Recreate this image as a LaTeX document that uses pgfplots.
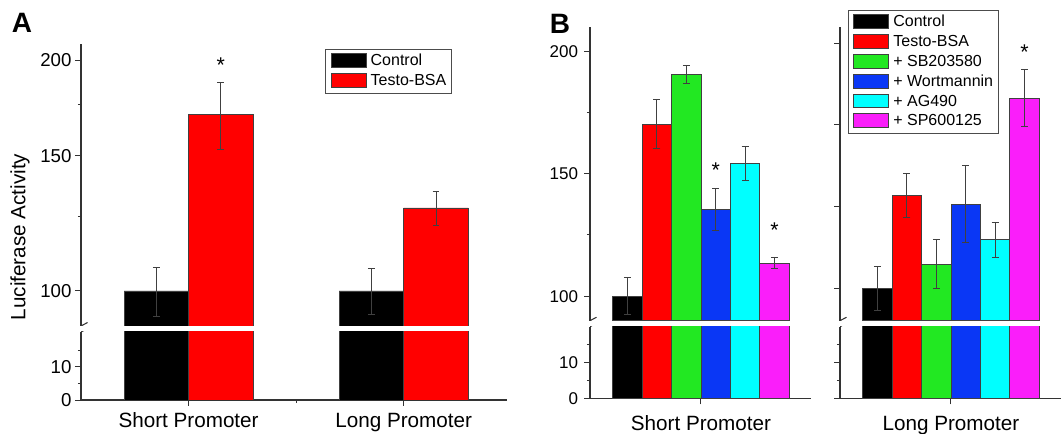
\documentclass[border=0pt]{standalone}
\usepackage{fontspec}
\setmainfont{Liberation Sans}
\usepackage{pgfplots}
\pgfplotsset{compat=1.18}
\definecolor{cgreen}{RGB}{34,232,34}
\definecolor{cblue}{RGB}{10,55,245}
\definecolor{ccyan}{RGB}{0,255,255}
\definecolor{cmag}{RGB}{250,30,250}
\definecolor{cred}{RGB}{255,0,0}
\begin{document}
\begin{tikzpicture}
\useasboundingbox (0,0) rectangle (796.5pt,325.5pt);
\pgfplotsset{
  brk/.style={scale only axis, anchor=south west, tick align=outside,
    major tick length=4.5pt, minor tick length=2.4pt,
    axis line style={-, line width=0.9pt, black!80},
    every outer x axis line/.append style={-},
    every outer y axis line/.append style={-},
    every tick/.style={black!80, line width=0.7pt},
    /pgf/number format/assume math mode=true},
  topax/.style={brk, axis x line=none, axis y line*=left, ytick pos=left},
  botax/.style={brk, axis x line*=bottom, axis y line*=left, ytick pos=left, xtick pos=bottom,
    ytick={0,10}, minor ytick={5,15}},
  errs/.style={error bars/.cd, y dir=both, y explicit,
    error bar style={line width=0.6pt, black!75},
    error mark options={rotate=90, mark size=2.6pt, line width=0.6pt, black!75}},
  bars/.style={ybar, bar shift=0pt, draw=black!75, line width=0.5pt},
  leg/.style={legend style={draw=black!70, line width=0.6pt, fill=white,
    inner xsep=4pt, inner ysep=3pt, row sep=3pt, column sep=3.2pt,
    nodes={inner sep=0pt, text height=8.5pt, text depth=2.5pt, font=\fontsize{12}{12}\selectfont}},
    legend cell align=left,
    legend image code/.code={\draw[#1,/tikz/.cd,draw=black!75,line width=0.5pt] (0pt,-4.3pt) rectangle (26.25pt,6.1pt);}},
  labA/.style={yticklabel style={font=\fontsize{14}{14}\selectfont, anchor=east, inner sep=0pt, xshift=-2.5pt}},
  labB/.style={yticklabel style={font=\fontsize{12.75}{12.75}\selectfont, anchor=east, inner sep=0pt, xshift=-4.3pt}},
  xlab/.style={xticklabel style={font=\fontsize{15.5}{15.5}\selectfont, anchor=base, inner sep=0pt, yshift=#1}},
}
% ---------------- Panel A ----------------
\begin{axis}[topax, labA, leg, at={(60.75pt,81pt)}, width=319.5pt, height=211.5pt,
  ymode=log, ymin=90, ymax=210, xmin=0.5, xmax=2.48,
  ytick={100,150,200}, minor ytick={125,175}, yticklabels={100,150,200},
  legend style={at={(0.5728,0.9823)}, anchor=north west}]
\addplot[bars, bar width=0.3, fill=black, errs] coordinates {(0.85,100) +- (0,7.3) (1.85,100) +- (0,6.9)};
\addlegendentry{Control}
\addplot[bars, bar width=0.3, fill=cred, errs] coordinates {(1.15,170) +- (0,17) (2.15,128.3) +- (0,6.6)};
\addlegendentry{Testo-BSA}
\node[font=\fontsize{16}{16}\selectfont, anchor=base, inner sep=0pt, yshift=-9.1pt] at (axis cs:1.15,200) {*};
\draw[line width=0.8pt, black!80] ([xshift=-4.9pt,yshift=-2.6pt]rel axis cs:0,0) -- ([xshift=4.9pt,yshift=2.6pt]rel axis cs:0,0);
\end{axis}
\begin{axis}[botax, labA, xlab=-16.3pt, at={(60.75pt,25.5pt)}, width=319.5pt, height=51pt,
  ymin=0, ymax=20.4, xmin=0.5, xmax=2.48,
  xtick={1,2}, xticklabels={Short Promoter, Long Promoter}, minor xtick={1.5}]
\addplot[bars, bar width=0.3, fill=black] coordinates {(0.85,100) (1.85,100)};
\addplot[bars, bar width=0.3, fill=cred] coordinates {(1.15,170) (2.15,128.3)};
\draw[line width=0.8pt, black!80] ([xshift=-4.9pt,yshift=-2.6pt]rel axis cs:0,1) -- ([xshift=4.9pt,yshift=2.6pt]rel axis cs:0,1);
\end{axis}
% ---------------- Panel B left ----------------
\begin{axis}[topax, labB, at={(442.5pt,84.98pt)}, width=165.75pt, height=220.5pt,
  ymin=90, ymax=210, xmin=-3.77, xmax=3.74,
  ytick={100,150,200}, minor ytick={125,175}, yticklabels={100,150,200}]
\addplot[bars, bar width=1, fill=black, errs] coordinates {(-2.5,100) +- (0,7.6)};
\addplot[bars, bar width=1, fill=cred, errs] coordinates {(-1.5,170.2) +- (0,10)};
\addplot[bars, bar width=1, fill=cgreen, errs] coordinates {(-0.5,190.6) +- (0,3.7)};
\addplot[bars, bar width=1, fill=cblue, errs] coordinates {(0.5,135.5) +- (0,8.5)};
\addplot[bars, bar width=1, fill=ccyan, errs] coordinates {(1.5,154.1) +- (0,6.9)};
\addplot[bars, bar width=1, fill=cmag, errs] coordinates {(2.5,113.6) +- (0,2.4)};
\node[font=\fontsize{16}{16}\selectfont, anchor=base, inner sep=0pt, yshift=-9.1pt] at (axis cs:0.5,153.2) {*};
\node[font=\fontsize{16}{16}\selectfont, anchor=base, inner sep=0pt, yshift=-9.1pt] at (axis cs:2.5,129) {*};
\draw[line width=0.8pt, black!80] ([xshift=-4.9pt,yshift=-2.6pt]rel axis cs:0,0) -- ([xshift=4.9pt,yshift=2.6pt]rel axis cs:0,0);
\end{axis}
\begin{axis}[botax, labB, xlab=-19.3pt, at={(442.5pt,26.78pt)}, width=165.75pt, height=53.7pt,
  ymin=0, ymax=20.1, xmin=-3.77, xmax=3.74,
  xtick={0}, xticklabels={Short Promoter}]
\addplot[bars, bar width=1, fill=black] coordinates {(-2.5,100)};
\addplot[bars, bar width=1, fill=cred] coordinates {(-1.5,170.2)};
\addplot[bars, bar width=1, fill=cgreen] coordinates {(-0.5,190.6)};
\addplot[bars, bar width=1, fill=cblue] coordinates {(0.5,135.5)};
\addplot[bars, bar width=1, fill=ccyan] coordinates {(1.5,154.1)};
\addplot[bars, bar width=1, fill=cmag] coordinates {(2.5,113.6)};
\draw[line width=0.8pt, black!80] ([xshift=-4.9pt,yshift=-2.6pt]rel axis cs:0,1) -- ([xshift=4.9pt,yshift=2.6pt]rel axis cs:0,1);
\end{axis}
% ---------------- Panel B right ----------------
\begin{axis}[topax, leg, at={(630pt,84.98pt)}, width=165.75pt, height=220.5pt,
  ymin=90, ymax=180, xmin=-3.77, xmax=3.74,
  ytick={100,125,150,175}, yticklabels={}, 
  legend style={at={(0.0348,1.0568)}, anchor=north west}]
\addplot[bars, bar width=1, fill=black, errs] coordinates {(-2.5,100) +- (0,6.7)};
\addlegendentry{Control}
\addplot[bars, bar width=1, fill=cred, errs] coordinates {(-1.5,128.3) +- (0,6.7)};
\addlegendentry{Testo-BSA}
\addplot[bars, bar width=1, fill=cgreen, errs] coordinates {(-0.5,107.4) +- (0,7.6)};
\addlegendentry{+ SB203580}
\addplot[bars, bar width=1, fill=cblue, errs] coordinates {(0.5,125.7) +- (0,11.7)};
\addlegendentry{+ Wortmannin}
\addplot[bars, bar width=1, fill=ccyan, errs] coordinates {(1.5,114.8) +- (0,5.3)};
\addlegendentry{+ AG490}
\addplot[bars, bar width=1, fill=cmag, errs] coordinates {(2.5,158.2) +- (0,8.8)};
\addlegendentry{+ SP600125}
\node[font=\fontsize{16}{16}\selectfont, anchor=base, inner sep=0pt, yshift=-9.1pt] at (axis cs:2.5,173.8) {*};
\draw[line width=0.8pt, black!80] ([xshift=-4.9pt,yshift=-2.6pt]rel axis cs:0,0) -- ([xshift=4.9pt,yshift=2.6pt]rel axis cs:0,0);
\end{axis}
\begin{axis}[botax, xlab=-19.3pt, at={(630pt,26.78pt)}, width=165.75pt, height=53.7pt,
  ymin=0, ymax=20.1, xmin=-3.77, xmax=3.74, yticklabels={},
  xtick={0}, xticklabels={Long Promoter}]
\addplot[bars, bar width=1, fill=black] coordinates {(-2.5,100)};
\addplot[bars, bar width=1, fill=cred] coordinates {(-1.5,128.3)};
\addplot[bars, bar width=1, fill=cgreen] coordinates {(-0.5,107.4)};
\addplot[bars, bar width=1, fill=cblue] coordinates {(0.5,125.7)};
\addplot[bars, bar width=1, fill=ccyan] coordinates {(1.5,114.8)};
\addplot[bars, bar width=1, fill=cmag] coordinates {(2.5,158.2)};
\draw[line width=0.8pt, black!80] ([xshift=-4.9pt,yshift=-2.6pt]rel axis cs:0,1) -- ([xshift=4.9pt,yshift=2.6pt]rel axis cs:0,1);
\end{axis}
% ---------------- labels ----------------
\node[rotate=90, font=\fontsize{15.5}{15.5}\selectfont] at (15pt,147.75pt) {Luciferase Activity};
\node[font=\bfseries\fontsize{21}{21}\selectfont] at (16.5pt,308.25pt) {A};
\node[font=\bfseries\fontsize{21}{21}\selectfont] at (420pt,307.5pt) {B};
\end{tikzpicture}
\end{document}
